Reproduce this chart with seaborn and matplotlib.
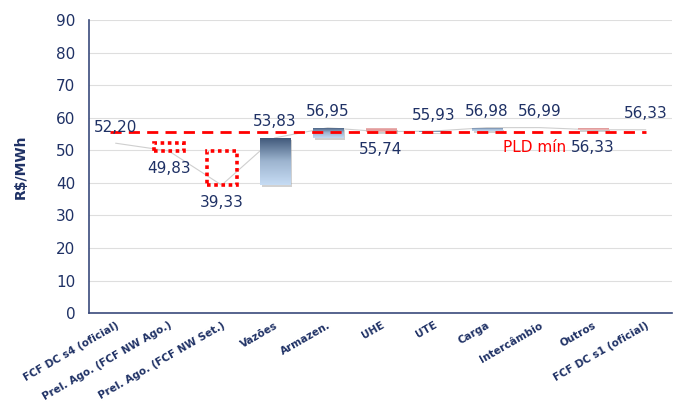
import numpy as np
import pandas as pd
import matplotlib
matplotlib.use("Agg")
import matplotlib.pyplot as plt
import matplotlib.patheffects as pe
from matplotlib.colors import LinearSegmentedColormap
import seaborn as sns

# Waterfall steps of the weekly price (R$/MWh)
categories = [
    "FCF DC s4 (oficial)",
    "Prel. Ago. (FCF NW Ago.)",
    "Prel. Ago. (FCF NW Set.)",
    "Vazões",
    "Armazen.",
    "UHE",
    "UTE",
    "Carga",
    "Intercâmbio",
    "Outros",
    "FCF DC s1 (oficial)",
]
# price level reached after each step
levels = [52.20, 49.83, 39.33, 53.83, 56.95, 55.74, 55.93, 56.98, 56.99, 56.33, 56.33]
# role of each step: official totals, preliminary runs, and deltas
kinds = ["total", "prelim", "prelim", "delta", "delta", "delta",
         "delta", "delta", "delta", "delta", "total"]
pld_min = 55.70
pld_label = "PLD mín"
y_ticks = [0, 10, 20, 30, 40, 50, 60, 70, 80, 90]

NAVY = "#1f3165"
AXIS = "#3a4a7c"
RED = "#ff0000"

sns.set_theme(style="white")
plt.rcParams["font.family"] = ["DejaVu Sans"]

# floating segments: totals stand on zero, others span previous -> current level
bottoms, heights = [], []
for i, (lvl, kind) in enumerate(zip(levels, kinds)):
    if kind == "total":
        bottoms.append(0.0)
        heights.append(lvl)
    else:
        prev = levels[i - 1]
        bottoms.append(min(prev, lvl))
        heights.append(abs(lvl - prev))

df = pd.DataFrame({"categoria": categories, "altura": heights})

fig = plt.figure(figsize=(6.75, 4.03), dpi=100)
ax = fig.add_axes([0.132, 0.223, 0.864, 0.727])

# light connector through every level
sns.lineplot(x=np.arange(len(categories)), y=levels, ax=ax, color="#cfcfcf",
             linewidth=0.8, zorder=1, legend=False)

sns.barplot(data=df, x="categoria", y="altura", order=categories, ax=ax,
            width=0.57, color="#c5dbf2", saturation=1, errorbar=None, zorder=2)

blue_cmap = LinearSegmentedColormap.from_list("blue", ["#c6dcf4", "#9db4cf", "#3d5577"])
red_cmap = LinearSegmentedColormap.from_list("red", ["#f2c4c4", "#de9494", "#eeb8b8"])
grad = np.linspace(0, 1, 256).reshape(-1, 1)

shadow = [pe.SimplePatchShadow(offset=(1.5, -1.5), shadow_rgbFace="#9a9a9a", alpha=0.45),
          pe.Normal()]

for i, (patch, b) in enumerate(zip(ax.patches, bottoms)):
    patch.set_y(b)
    patch.set_linewidth(0)
    kind = kinds[i]
    if kind == "total":
        patch.set_visible(False)
        continue
    if kind == "prelim":
        patch.set_facecolor("none")
        patch.set_edgecolor(RED)
        patch.set_linestyle((0, (1, 1)))
        patch.set_linewidth(2.6)
        continue
    rising = levels[i] >= levels[i - 1]
    patch.set_path_effects(shadow)
    patch.set_facecolor("#c6dcf4" if rising else "#f0c0c0")
    x0, w, y0, h = patch.get_x(), patch.get_width(), patch.get_y(), patch.get_height()
    im = ax.imshow(grad, extent=(x0, x0 + w, y0, y0 + h), origin="lower",
                   cmap=blue_cmap if rising else red_cmap, aspect="auto",
                   zorder=2.5, interpolation="bilinear")
    im.set_clip_path(patch)

# minimum price reference
ax.hlines(pld_min, -0.1, len(categories) - 1, colors=RED, linestyles=(0, (4, 2.6)),
          linewidth=2, zorder=4)

# value labels: above for rises and totals, below for drops
for i, lvl in enumerate(levels):
    above = kinds[i] == "total" or lvl >= levels[i - 1]
    ax.annotate(f"{lvl:.2f}".replace(".", ","), xy=(i, lvl),
                xytext=(0, 11.5 if above else -12.5), textcoords="offset points",
                ha="center", va="center", fontsize=11, color=NAVY, zorder=5)

ax.annotate(pld_label, xy=(8.5, pld_min), xytext=(0, -11), textcoords="offset points",
            ha="right", va="center", fontsize=11, color=RED, zorder=5)

ax.set_xlim(-0.5, len(categories) - 0.5)
ax.set_ylim(0, 90)
ax.set_yticks(y_ticks)
ax.yaxis.grid(True, color="#dedede", linewidth=0.8)
ax.set_axisbelow(True)

ax.set_xticks(range(len(categories)))
ax.set_xticklabels(categories, rotation=30, ha="right", rotation_mode="anchor",
                   fontsize=7.5, fontweight="bold", color=NAVY)
ax.set_xticks(np.arange(-0.5, len(categories), 1), minor=True)
ax.tick_params(axis="x", which="major", length=0, pad=5)
ax.tick_params(axis="x", which="minor", length=4, width=1, color=AXIS, direction="out")
ax.tick_params(axis="y", length=4, width=1, color=AXIS, direction="out",
               labelsize=11, labelcolor=NAVY, pad=6)

ax.set_xlabel("")
ax.set_ylabel(r"R\$/MWh", fontsize=10, fontweight="bold", color=NAVY, labelpad=20)

for side in ("top", "right"):
    ax.spines[side].set_visible(False)
for side in ("left", "bottom"):
    ax.spines[side].set_color(AXIS)
    ax.spines[side].set_linewidth(1.2)

fig.savefig("out.png", dpi=100)
